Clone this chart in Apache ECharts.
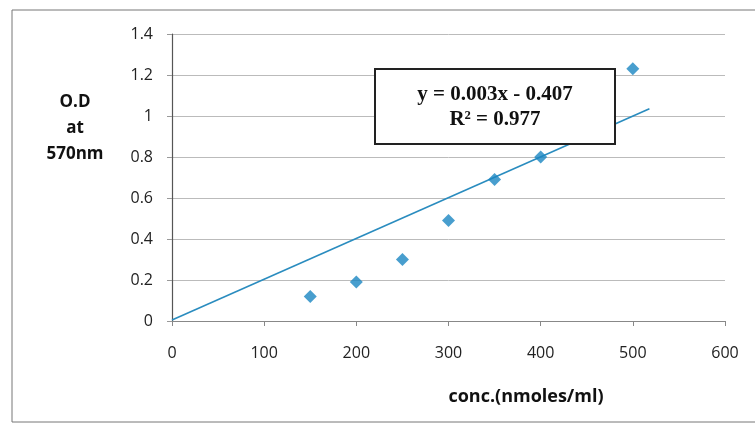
<!DOCTYPE html>
<html>
<head>
<meta charset="utf-8">
<script src="https://cdn.jsdelivr.net/npm/echarts@6/dist/echarts.min.js"></script>
<style>
  html, body { margin: 0; padding: 0; background: #fff; }
  #chart { width: 755px; height: 427px; }
</style>
</head>
<body>
<div id="chart"></div>
<script>
// 测量点
var concValues = [150, 200, 250, 300, 350, 400, 500];
var odValues = [0.12, 0.19, 0.30, 0.49, 0.69, 0.80, 1.23];
// 趋势线两端
var trendX = [0, 518];
var trendY = [0.005, 1.035];
var equationLines = ['y = 0.003x - 0.407', 'R² = 0.977'];

var points = concValues.map(function (x, i) { return [x, odValues[i]]; });
var trend = trendX.map(function (x, i) { return [x, trendY[i]]; });

var myChart = echarts.init(document.getElementById('chart'));
var axisFont = { fontFamily: 'Open Sans', fontSize: 16, color: '#222' };

var option = {
    backgroundColor: '#fff',
    animation: false,
    grid: { left: 172, right: 30, top: 34, bottom: 106 },
    xAxis: {
        type: 'value',
        min: 0, max: 600, interval: 100,
        axisLine: { show: true, lineStyle: { color: '#888', width: 1 } },
        axisTick: { show: true, length: 5, lineStyle: { color: '#888' } },
        splitLine: { show: false },
        axisLabel: Object.assign({ margin: 24 }, axisFont)
    },
    yAxis: {
        type: 'value',
        min: 0, max: 1.4, interval: 0.2,
        axisLine: { show: true, lineStyle: { color: '#555', width: 1.2 } },
        axisTick: { show: true, length: 5, lineStyle: { color: '#999' } },
        splitLine: { show: true, lineStyle: { color: '#bbb', width: 1 } },
        axisLabel: Object.assign({ margin: 19 }, axisFont)
    },
    series: [
        {
            type: 'line',
            data: trend,
            symbol: 'none',
            lineStyle: { color: '#2a8cbf', width: 1.6 },
            z: 2
        },
        {
            type: 'scatter',
            data: points,
            symbol: 'diamond',
            symbolSize: 13,
            itemStyle: { color: '#1a86c2' },
            z: 3
        }
    ],
    graphic: [
        {
            type: 'rect',
            shape: { x: 12, y: 10, width: 760, height: 412 },
            style: { fill: 'none', stroke: '#777', lineWidth: 1 },
            silent: true
        },
        {
            type: 'text',
            x: 75, y: 89,
            style: {
                text: 'O.D\nat\n570nm',
                fontFamily: 'Open Sans', fontWeight: 'bold', fontSize: 17,
                lineHeight: 26, align: 'center', fill: '#111'
            }
        },
        {
            type: 'text',
            x: 526, y: 397,
            style: {
                text: 'conc.(nmoles/ml)',
                fontFamily: 'Open Sans', fontWeight: 'bold', fontSize: 18,
                align: 'center', verticalAlign: 'middle', fill: '#111'
            }
        },
        {
            type: 'rect',
            shape: { x: 375, y: 69, width: 240, height: 75 },
            style: { fill: '#fff', stroke: '#222', lineWidth: 2 },
            z: 10
        },
        {
            type: 'text',
            x: 495, y: 82,
            style: {
                text: equationLines.join('\n'),
                fontFamily: 'Liberation Serif', fontWeight: 'bold', fontSize: 21,
                lineHeight: 25, align: 'center', fill: '#111'
            },
            z: 11
        }
    ]
};
myChart.setOption(option);

window.onresize = function () {
    myChart.resize();
};
</script>
</body>
</html>
